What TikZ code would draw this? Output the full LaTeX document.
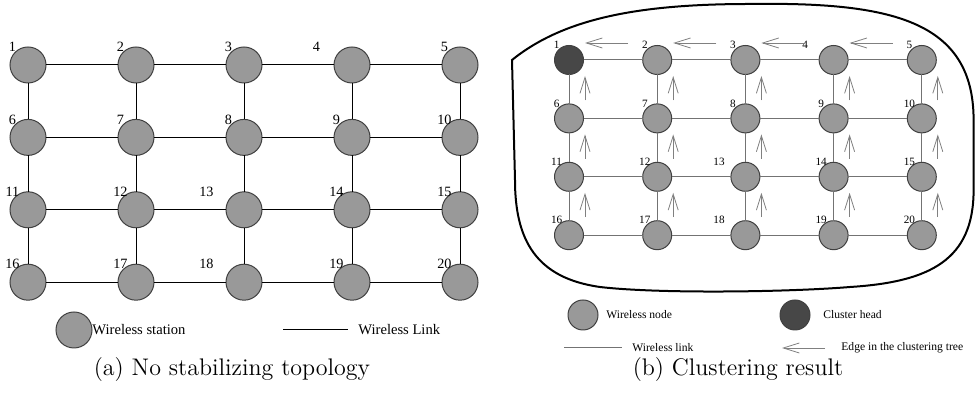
\documentclass[tikz,border=0pt]{standalone}
\usepackage{fontspec}
\newfontfamily\figfont{Liberation Serif}
\usetikzlibrary{arrows.meta,positioning}
\definecolor{stationgray}{gray}{0.6}
\definecolor{headgray}{gray}{0.28}
\definecolor{linkgray}{gray}{0.45}
\tikzstyle{station} = [circle, draw=black!75, fill=stationgray, line width=0.5pt,
    minimum size=18pt, inner sep=0pt, outer sep=0pt]
\tikzstyle{wnode} = [station, minimum size=14.5pt]
\tikzstyle{chead} = [wnode, fill=headgray]
\tikzstyle{numa} = [font=\figfont\fontsize{7.1}{8}\selectfont, inner sep=0pt,
    anchor=base west, xshift=-7.8pt, yshift=9pt]
\tikzstyle{numb} = [font=\figfont\fontsize{5.6}{6}\selectfont, inner sep=0pt,
    anchor=base west, xshift=-6.2pt, yshift=7.5pt]
\tikzstyle{keya} = [font=\figfont\fontsize{7.3}{8}\selectfont, inner sep=0pt, anchor=west]
\tikzstyle{keyb} = [font=\figfont\fontsize{5.8}{7}\selectfont, inner sep=0pt, anchor=west]
\tikzstyle{link} = [draw=black, line width=0.5pt]
\tikzstyle{wlink} = [draw=linkgray, line width=0.5pt]
\tikzstyle{tree} = [draw=gray, line width=0.4pt, ->]
\tikzstyle{caption} = [font=\fontsize{12}{14}\selectfont]

\begin{document}
\begin{tikzpicture}[>={Straight Barb[length=8pt,width=5pt]}]
  \useasboundingbox (0,0) rectangle (487.5pt,-199.5pt);

  % (a) no stabilizing topology
  \node[station] (a1) at (14pt,-32.5pt) [label={[numa]center:1}] {};
  \node[station] (a2) [right=36pt of a1, label={[numa]center:2}] {};
  \node[station] (a3) [right=36pt of a2, label={[numa]center:3}] {};
  \node[station] (a4) [right=36pt of a3, label={[numa,xshift=-10pt]center:4}] {};
  \node[station] (a5) [right=36pt of a4, label={[numa]center:5}] {};
  \node[station] (a6) [below=18.2pt of a1, label={[numa]center:6}] {};
  \node[station] (a7) [right=36pt of a6, label={[numa]center:7}] {};
  \node[station] (a8) [right=36pt of a7, label={[numa]center:8}] {};
  \node[station] (a9) [right=36pt of a8, label={[numa]center:9}] {};
  \node[station] (a10) [right=36pt of a9, label={[numa]center:10}] {};
  \node[station] (a11) [below=18.2pt of a6, label={[numa]center:11}] {};
  \node[station] (a12) [right=36pt of a11, label={[numa]center:12}] {};
  \node[station] (a13) [right=36pt of a12, label={[numa,xshift=-11pt]center:13}] {};
  \node[station] (a14) [right=36pt of a13, label={[numa]center:14}] {};
  \node[station] (a15) [right=36pt of a14, label={[numa]center:15}] {};
  \node[station] (a16) [below=18.2pt of a11, label={[numa]center:16}] {};
  \node[station] (a17) [right=36pt of a16, label={[numa]center:17}] {};
  \node[station] (a18) [right=36pt of a17, label={[numa,xshift=-11pt]center:18}] {};
  \node[station] (a19) [right=36pt of a18, label={[numa]center:19}] {};
  \node[station] (a20) [right=36pt of a19, label={[numa]center:20}] {};

  \path (a1) edge[link] (a2) (a2) edge[link] (a3) (a3) edge[link] (a4) (a4) edge[link] (a5)
        (a6) edge[link] (a7) (a7) edge[link] (a8) (a8) edge[link] (a9) (a9) edge[link] (a10)
        (a11) edge[link] (a12) (a12) edge[link] (a13) (a13) edge[link] (a14) (a14) edge[link] (a15)
        (a16) edge[link] (a17) (a17) edge[link] (a18) (a18) edge[link] (a19) (a19) edge[link] (a20)
        (a1) edge[link] (a6) (a6) edge[link] (a11) (a11) edge[link] (a16)
        (a2) edge[link] (a7) (a7) edge[link] (a12) (a12) edge[link] (a17)
        (a3) edge[link] (a8) (a8) edge[link] (a13) (a13) edge[link] (a18)
        (a4) edge[link] (a9) (a9) edge[link] (a14) (a14) edge[link] (a19)
        (a5) edge[link] (a10) (a10) edge[link] (a15) (a15) edge[link] (a20);

  \node[station] (keyst) at (37pt,-165pt) {};
  \node[keya] (keysttext) [right=0pt of keyst] {Wireless station};
  \coordinate (keylka) at (141.5pt,-165pt);
  \coordinate (keylkb) at (174pt,-165pt);
  \draw[link] (keylka) -- (keylkb);
  \node[keya] (keylktext) at (179pt,-165pt) {Wireless Link};
  \node[caption] (capa) at (116pt,-185pt) {(a) No stabilizing topology};

  % (b) clustering result
  \draw[line width=1pt] (256pt,-30pt) .. controls (282pt,-9pt) and (320pt,-2pt) .. (375pt,-2pt)
        .. controls (445pt,-1pt) and (486.8pt,-10pt) .. (486.8pt,-60pt)
        -- (486.8pt,-95pt) .. controls (486.8pt,-130pt) and (465pt,-141pt) .. (425pt,-143.5pt)
        .. controls (395pt,-146pt) and (330pt,-147pt) .. (300pt,-143.5pt)
        .. controls (268pt,-139pt) and (257.5pt,-120pt) .. (257.5pt,-90pt) -- cycle;

  \node[chead] (b1) at (284.5pt,-30pt) [label={[numb]center:1}] {};
  \node[wnode] (b2) [right=29.6pt of b1, label={[numb]center:2}] {};
  \node[wnode] (b3) [right=29.6pt of b2, label={[numb]center:3}] {};
  \node[wnode] (b4) [right=29.6pt of b3, label={[numb,xshift=-8pt]center:4}] {};
  \node[wnode] (b5) [right=29.6pt of b4, label={[numb]center:5}] {};
  \node[wnode] (b6) [below=14.7pt of b1, label={[numb]center:6}] {};
  \node[wnode] (b7) [right=29.6pt of b6, label={[numb]center:7}] {};
  \node[wnode] (b8) [right=29.6pt of b7, label={[numb]center:8}] {};
  \node[wnode] (b9) [right=29.6pt of b8, label={[numb]center:9}] {};
  \node[wnode] (b10) [right=29.6pt of b9, label={[numb]center:10}] {};
  \node[wnode] (b11) [below=14.7pt of b6, label={[numb]center:11}] {};
  \node[wnode] (b12) [right=29.6pt of b11, label={[numb]center:12}] {};
  \node[wnode] (b13) [right=29.6pt of b12, label={[numb,xshift=-7pt]center:13}] {};
  \node[wnode] (b14) [right=29.6pt of b13, label={[numb]center:14}] {};
  \node[wnode] (b15) [right=29.6pt of b14, label={[numb]center:15}] {};
  \node[wnode] (b16) [below=14.7pt of b11, label={[numb]center:16}] {};
  \node[wnode] (b17) [right=29.6pt of b16, label={[numb]center:17}] {};
  \node[wnode] (b18) [right=29.6pt of b17, label={[numb,xshift=-7pt]center:18}] {};
  \node[wnode] (b19) [right=29.6pt of b18, label={[numb]center:19}] {};
  \node[wnode] (b20) [right=29.6pt of b19, label={[numb]center:20}] {};

  \path (b1) edge[wlink] (b2) (b2) edge[wlink] (b3) (b3) edge[wlink] (b4) (b4) edge[wlink] (b5)
        (b6) edge[wlink] (b7) (b7) edge[wlink] (b8) (b8) edge[wlink] (b9) (b9) edge[wlink] (b10)
        (b11) edge[wlink] (b12) (b12) edge[wlink] (b13) (b13) edge[wlink] (b14) (b14) edge[wlink] (b15)
        (b16) edge[wlink] (b17) (b17) edge[wlink] (b18) (b18) edge[wlink] (b19) (b19) edge[wlink] (b20)
        (b1) edge[wlink] (b6) (b6) edge[wlink] (b11) (b11) edge[wlink] (b16)
        (b2) edge[wlink] (b7) (b7) edge[wlink] (b12) (b12) edge[wlink] (b17)
        (b3) edge[wlink] (b8) (b8) edge[wlink] (b13) (b13) edge[wlink] (b18)
        (b4) edge[wlink] (b9) (b9) edge[wlink] (b14) (b14) edge[wlink] (b19)
        (b5) edge[wlink] (b10) (b10) edge[wlink] (b15) (b15) edge[wlink] (b20);

  % clustering tree
  \path ([xshift=-14.5pt,yshift=8.5pt]b2.center) edge[tree] ([xshift=8pt,yshift=8.5pt]b1.center)
        ([xshift=-14.5pt,yshift=8.5pt]b3.center) edge[tree] ([xshift=8pt,yshift=8.5pt]b2.center)
        ([xshift=-14.5pt,yshift=8.5pt]b4.center) edge[tree] ([xshift=8pt,yshift=8.5pt]b3.center)
        ([xshift=-14.5pt,yshift=8.5pt]b5.center) edge[tree] ([xshift=8pt,yshift=8.5pt]b4.center);
  \path ([xshift=8pt,yshift=9pt]b6.center) edge[tree] ([xshift=8pt,yshift=-8pt]b1.center)
        ([xshift=8pt,yshift=9pt]b7.center) edge[tree] ([xshift=8pt,yshift=-8pt]b2.center)
        ([xshift=8pt,yshift=9pt]b8.center) edge[tree] ([xshift=8pt,yshift=-8pt]b3.center)
        ([xshift=8pt,yshift=9pt]b9.center) edge[tree] ([xshift=8pt,yshift=-8pt]b4.center)
        ([xshift=8pt,yshift=9pt]b10.center) edge[tree] ([xshift=8pt,yshift=-8pt]b5.center)
        ([xshift=8pt,yshift=9pt]b11.center) edge[tree] ([xshift=8pt,yshift=-8pt]b6.center)
        ([xshift=8pt,yshift=9pt]b12.center) edge[tree] ([xshift=8pt,yshift=-8pt]b7.center)
        ([xshift=8pt,yshift=9pt]b13.center) edge[tree] ([xshift=8pt,yshift=-8pt]b8.center)
        ([xshift=8pt,yshift=9pt]b14.center) edge[tree] ([xshift=8pt,yshift=-8pt]b9.center)
        ([xshift=8pt,yshift=9pt]b15.center) edge[tree] ([xshift=8pt,yshift=-8pt]b10.center)
        ([xshift=8pt,yshift=9pt]b16.center) edge[tree] ([xshift=8pt,yshift=-8pt]b11.center)
        ([xshift=8pt,yshift=9pt]b17.center) edge[tree] ([xshift=8pt,yshift=-8pt]b12.center)
        ([xshift=8pt,yshift=9pt]b18.center) edge[tree] ([xshift=8pt,yshift=-8pt]b13.center)
        ([xshift=8pt,yshift=9pt]b19.center) edge[tree] ([xshift=8pt,yshift=-8pt]b14.center)
        ([xshift=8pt,yshift=9pt]b20.center) edge[tree] ([xshift=8pt,yshift=-8pt]b15.center);

  \node[wnode, minimum size=15pt] (keyw) at (291.5pt,-157.5pt) {};
  \node[keyb] (keywtext) at (303pt,-157.5pt) {Wireless node};
  \node[chead, minimum size=15pt] (keyh) at (397.5pt,-157.5pt) {};
  \node[keyb] (keyhtext) at (411.5pt,-157.5pt) {Cluster head};
  \coordinate (keylkc) at (282pt,-174pt);
  \coordinate (keylkd) at (311pt,-174pt);
  \draw[wlink] (keylkc) -- (keylkd);
  \node[keyb] (keylktextb) at (316pt,-174pt) {Wireless link};
  \coordinate (keytra) at (412.5pt,-174pt);
  \coordinate (keytrb) at (391pt,-174pt);
  \draw[tree] (keytra) -- (keytrb);
  \node[keyb] (keytrtext) at (420.5pt,-174pt) {Edge in the clustering tree};
  \node[caption] (capb) at (369pt,-185pt) {(b) Clustering result};
\end{tikzpicture}
\end{document}
